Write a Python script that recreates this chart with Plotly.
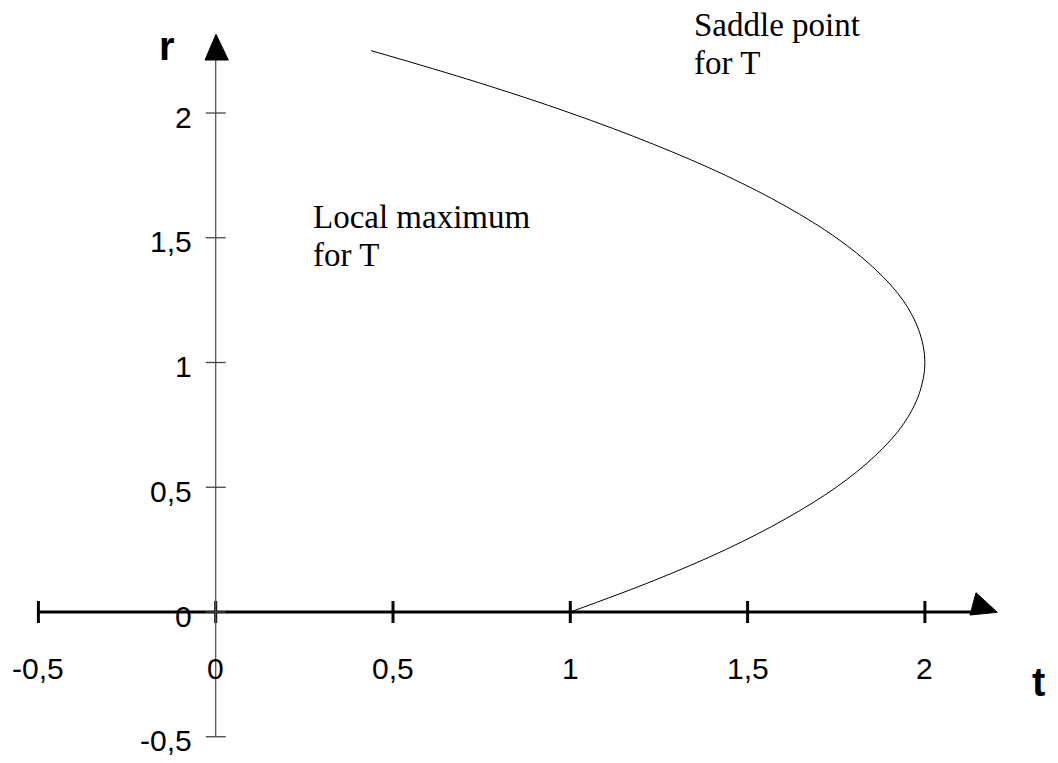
import plotly.graph_objects as go

# ---- data ----
r_vals = [0.0, 0.125, 0.25, 0.375, 0.5, 0.625, 0.75, 0.875, 1.0, 1.125, 1.25,
          1.375, 1.5, 1.625, 1.75, 1.875, 2.0, 2.125, 2.25]
t_vals = [1.0, 1.234, 1.438, 1.609, 1.75, 1.859, 1.938, 1.984, 2.0, 1.984, 1.938,
          1.859, 1.75, 1.609, 1.438, 1.234, 1.0, 0.734, 0.438]

x_ticks = [-0.5, 0, 0.5, 1, 1.5, 2]
x_tick_labels = ["-0,5", "0", "0,5", "1", "1,5", "2"]
y_ticks = [-0.5, 0, 0.5, 1, 1.5, 2]
y_tick_labels = ["-0,5", "0", "0,5", "1", "1,5", "2"]

region_labels = [["Saddle point", "for T"], ["Local maximum", "for T"]]

# ---- layout geometry (page pixel mapping) ----
WIN_W, WIN_H = 1058, 763
PAGE_OFF = 8                      # default body margin of the html page
W, H = WIN_W - PAGE_OFF, WIN_H - PAGE_OFF
X0_PX, X_SCALE = 215.7, 354.6     # page pixel of t=0, pixels per unit
Y0_PX, Y_SCALE = 612.0, 249.5     # page pixel of r=0, pixels per unit

def tx(px):
    return (px - X0_PX) / X_SCALE

def ry(py):
    return (Y0_PX - py) / Y_SCALE

x_range = [tx(PAGE_OFF), tx(WIN_W)]
y_range = [ry(WIN_H), ry(PAGE_OFF)]

fig = go.Figure()
fig.add_trace(go.Scatter(x=t_vals, y=r_vals, mode="lines",
                         line=dict(color="black", width=1, shape="spline", smoothing=1.0),
                         hoverinfo="skip", showlegend=False))

shapes = []
# x axis (thick)
x_arrow = [(tx(976), ry(592.7)), (tx(970), ry(615)), (tx(997.3), ry(612.3))]
shapes.append(dict(type="line", x0=x_ticks[0], x1=tx(972), y0=0, y1=0,
                   line=dict(color="black", width=3)))
for xv in x_ticks:
    shapes.append(dict(type="line", x0=xv, x1=xv, yref="y", ysizemode="pixel",
                       yanchor=0, y0=-11, y1=11, line=dict(color="black", width=3)))
shapes.append(dict(type="path",
                   path="M {} {} L {} {} L {} {} Z".format(*[c for p in x_arrow for c in p]),
                   fillcolor="black", line=dict(color="black", width=1)))
# y axis (thin, grey)
y_arrow = [(tx(216), ry(34.3)), (tx(205), ry(60)), (tx(228.3), ry(60))]
shapes.append(dict(type="line", x0=0, x1=0, y0=y_ticks[0], y1=ry(60),
                   line=dict(color="#555555", width=1.3)))
for yv in y_ticks:
    shapes.append(dict(type="line", y0=yv, y1=yv, xref="x", xsizemode="pixel",
                       xanchor=0, x0=-10, x1=10, line=dict(color="#444444", width=1.3)))
shapes.append(dict(type="path",
                   path="M {} {} L {} {} L {} {} Z".format(*[c for p in y_arrow for c in p]),
                   fillcolor="black", line=dict(color="black", width=1)))

annotations = []
tick_font = dict(family="Liberation Sans, Arial", size=30, color="black")
for xv, lab in zip(x_ticks, x_tick_labels):
    annotations.append(dict(x=xv, y=ry(668), text=lab, showarrow=False,
                            xanchor="center", yanchor="middle", font=tick_font))
for yv, lab in zip(y_ticks, y_tick_labels):
    annotations.append(dict(x=tx(194), y=yv, text=lab, showarrow=False,
                            xanchor="right", yanchor="middle", yshift=-4, font=tick_font))

axis_font = dict(family="Liberation Sans, Arial", size=40, color="black")
annotations.append(dict(x=tx(167), y=ry(46), text="<b>r</b>", showarrow=False,
                        xanchor="center", yanchor="middle", font=axis_font))
annotations.append(dict(x=tx(1038), y=ry(682), text="<b>t</b>", showarrow=False,
                        xanchor="center", yanchor="middle", font=axis_font))

serif = dict(family="Liberation Serif, Times New Roman", size=33, color="black")
label_pos = [(tx(692), [ry(25), ry(63)]), (tx(311), [ry(217), ry(255)])]
for lines, (xp, ys) in zip(region_labels, label_pos):
    for txt, yp in zip(lines, ys):
        annotations.append(dict(x=xp, y=yp, text=txt, showarrow=False,
                                xanchor="left", yanchor="middle", font=serif))

fig.update_layout(
    width=W, height=H,
    margin=dict(l=0, r=0, t=0, b=0),
    paper_bgcolor="white", plot_bgcolor="white",
    xaxis=dict(range=x_range, visible=False, fixedrange=True),
    yaxis=dict(range=y_range, visible=False, fixedrange=True),
    shapes=shapes, annotations=annotations,
    showlegend=False,
)

fig.write_html("out.html")
